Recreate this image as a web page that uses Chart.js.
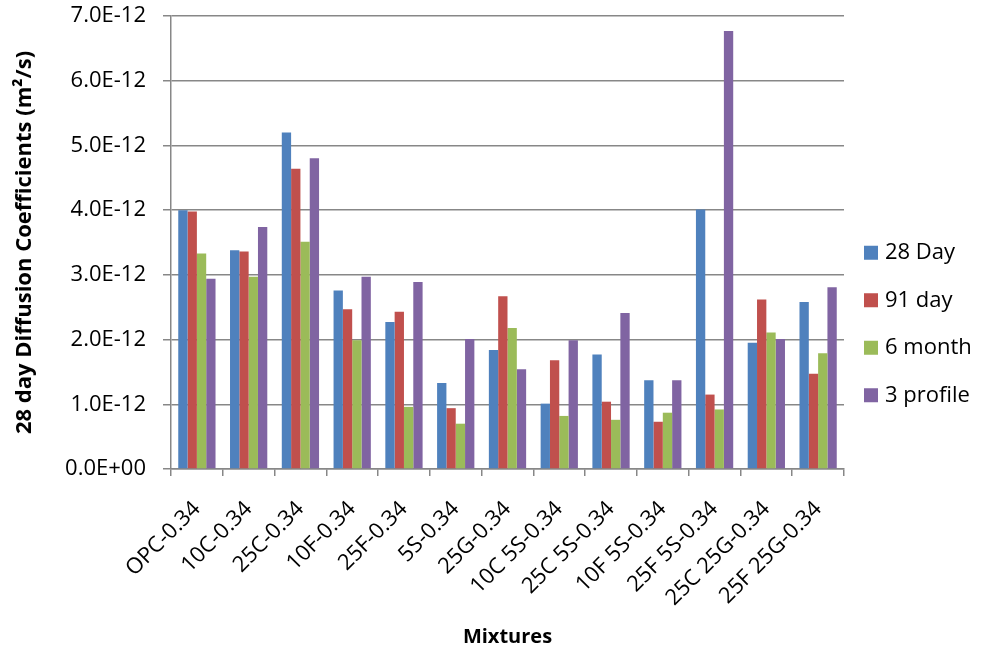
<!DOCTYPE html>
<html>
<head>
<meta charset="utf-8">
<script src="https://cdn.jsdelivr.net/npm/chart.js@4.4.1/dist/chart.umd.min.js"></script>
<style>
  html, body { margin: 0; padding: 0; background: #fff; }
  #wrap { width: 981px; height: 651px; }
</style>
</head>
<body>
<div id="wrap"><canvas id="chart" width="981" height="651"></canvas></div>
<script>
const mixtures = ['OPC-0.34', '10C-0.34', '25C-0.34', '10F-0.34', '25F-0.34', '5S-0.34', '25G-0.34',
  '10C 5S-0.34', '25C 5S-0.34', '10F 5S-0.34', '25F 5S-0.34', '25C 25G-0.34', '25F 25G-0.34'];

const day28    = [4.00e-12, 3.38e-12, 5.20e-12, 2.76e-12, 2.27e-12, 1.33e-12, 1.84e-12, 1.01e-12, 1.77e-12, 1.37e-12, 4.01e-12, 1.95e-12, 2.58e-12];
const day91    = [3.98e-12, 3.36e-12, 4.64e-12, 2.47e-12, 2.43e-12, 0.94e-12, 2.67e-12, 1.68e-12, 1.04e-12, 0.73e-12, 1.15e-12, 2.62e-12, 1.47e-12];
const month6   = [3.33e-12, 2.97e-12, 3.51e-12, 1.99e-12, 0.96e-12, 0.70e-12, 2.18e-12, 0.82e-12, 0.76e-12, 0.87e-12, 0.92e-12, 2.11e-12, 1.79e-12];
const profile3 = [2.94e-12, 3.74e-12, 4.80e-12, 2.97e-12, 2.89e-12, 2.01e-12, 1.54e-12, 1.99e-12, 2.41e-12, 1.37e-12, 6.77e-12, 2.01e-12, 2.81e-12];

const seriesNames  = ['28 Day', '91 day', '6 month', '3 profile'];
const seriesColors = ['#4f81bd', '#c0504d', '#9bbb59', '#8064a2'];

const yMax  = 7e-12;
const yStep = 1e-12;

const fontFamily = "'Open Sans', 'Liberation Sans', sans-serif";
const gridColor  = '#878787';

// Excel style: 7.0E-12, 0.0E+00
function sciLabel(v) {
  if (Math.abs(v) < 1e-20) return '0.0E+00';
  const [m, e] = v.toExponential(1).split('e');
  const n = parseInt(e, 10);
  const sign = n < 0 ? '-' : '+';
  return m + 'E' + sign + String(Math.abs(n)).padStart(2, '0');
}

// legend on the right, drawn by hand so the spacing matches
const sideLegend = {
  id: 'sideLegend',
  afterDraw(chart) {
    const { ctx, chartArea } = chart;
    const rowGap = 47.5;
    const y0 = chart.height / 2 - 1.5 * rowGap - 1.5;
    const bx = chartArea.right + 20;
    ctx.save();
    ctx.font = `22px ${fontFamily}`;
    ctx.textBaseline = 'middle';
    ctx.textAlign = 'left';
    chart.data.datasets.forEach((ds, i) => {
      const y = y0 + i * rowGap;
      ctx.fillStyle = ds.backgroundColor;
      ctx.fillRect(bx, y - 7, 14, 14);
      ctx.fillStyle = '#000';
      ctx.fillText(ds.label, bx + 21, y);
    });
    ctx.restore();
  }
};

const datasets = [day28, day91, month6, profile3].map((vals, i) => ({
  label: seriesNames[i],
  data: vals,
  backgroundColor: seriesColors[i],
  borderWidth: 0,
  categoryPercentage: 0.72,
  barPercentage: 1.0
}));

new Chart(document.getElementById('chart'), {
  type: 'bar',
  data: { labels: mixtures, datasets },
  plugins: [sideLegend],
  options: {
    responsive: false,
    animation: false,
    layout: { padding: { top: 16, right: 137, left: 0, bottom: 0 } },
    plugins: {
      legend:  { display: false },
      tooltip: { enabled: false }
    },
    scales: {
      x: {
        grid: {
          offset: true,
          drawOnChartArea: false,
          drawTicks: true,
          tickLength: 7,
          color: gridColor,
          lineWidth: 1.5
        },
        border: { color: gridColor, width: 1.5 },
        ticks: {
          color: '#000',
          font: { family: fontFamily, size: 22 },
          minRotation: 45,
          maxRotation: 45,
          padding: 20,
          autoSkip: false
        },
        title: {
          display: true,
          text: 'Mixtures',
          color: '#000',
          font: { family: fontFamily, size: 20, weight: 'bold' },
          padding: { top: 0, bottom: 2 }
        },
        afterFit(scale) { scale.height = 651 - 469; }
      },
      y: {
        min: 0,
        max: yMax,
        ticks: {
          stepSize: yStep,
          color: '#000',
          font: { family: fontFamily, size: 22 },
          padding: 17,
          callback: v => sciLabel(v)
        },
        grid: {
          color: gridColor,
          lineWidth: 1.5,
          drawTicks: true,
          tickLength: 8
        },
        border: { color: gridColor, width: 1.5 },
        title: {
          display: true,
          text: '28 day Diffusion Coefficients (m²/s)',
          color: '#000',
          font: { family: fontFamily, size: 22, weight: 'bold' },
          padding: { top: 12, bottom: 0 }
        },
        afterFit(scale) {
          scale.width = 171;
          scale.paddingTop = 0;
          scale.paddingBottom = 0;
        }
      }
    }
  }
});
</script>
</body>
</html>
